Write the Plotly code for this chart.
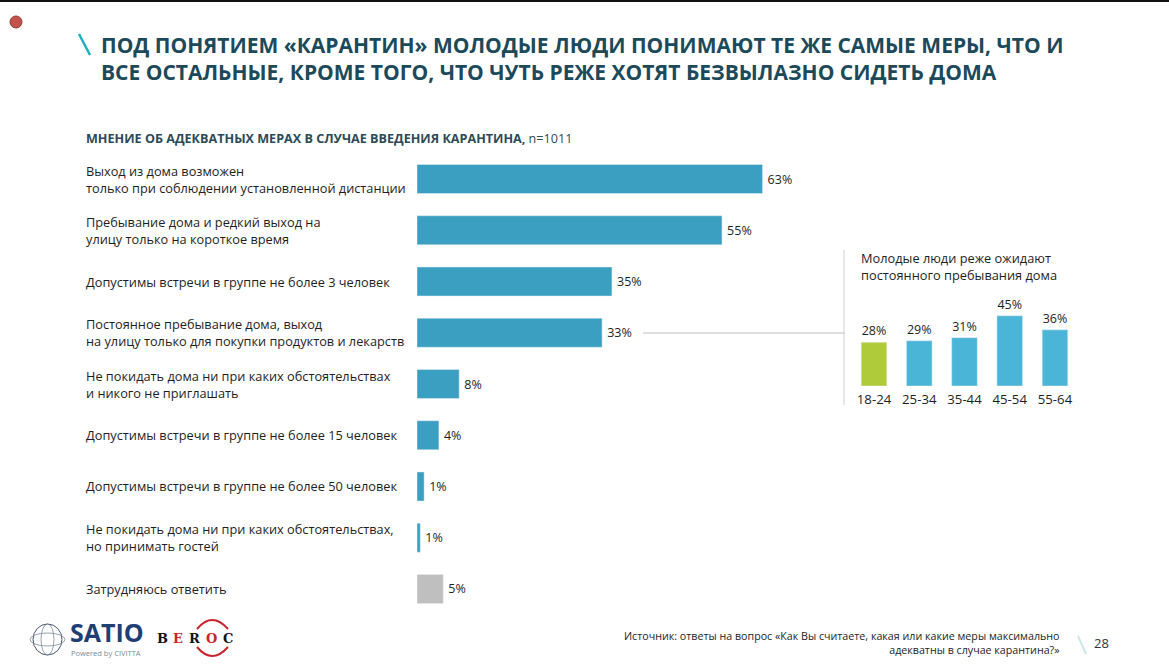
import plotly.graph_objects as go

W, H = 1169, 665
FONT = "Open Sans"

measures = [
    "Выход из дома возможен<br>только при соблюдении установленной дистанции",
    "Пребывание дома и редкий выход на<br>улицу только на короткое время",
    "Допустимы встречи в группе не более 3 человек",
    "Постоянное пребывание дома, выход<br>на улицу только для покупки продуктов и лекарств",
    "Не покидать дома ни при каких обстоятельствах<br>и никого не приглашать",
    "Допустимы встречи в группе не более 15 человек",
    "Допустимы встречи в группе не более 50 человек",
    "Не покидать дома ни при каких обстоятельствах,<br>но принимать гостей",
    "Затрудняюсь ответить",
]
measure_values = [63.1, 55.7, 35.6, 33.8, 7.7, 4, 1.3, 0.6, 4.8]
measure_labels = ["63%", "55%", "35%", "33%", "8%", "4%", "1%", "1%", "5%"]
measure_colors = ["#3a9fc1"] * 8 + ["#bfbfbf"]

age_groups = ["18-24", "25-34", "35-44", "45-54", "55-64"]
age_values = [28, 29, 31, 45, 36]
age_labels = ["28%", "29%", "31%", "45%", "36%"]
age_colors = ["#afcb3a", "#4ab5d6", "#4ab5d6", "#4ab5d6", "#4ab5d6"]

TITLE = "ПОД ПОНЯТИЕМ «КАРАНТИН» МОЛОДЫЕ ЛЮДИ ПОНИМАЮТ ТЕ ЖЕ САМЫЕ МЕРЫ, ЧТО И<br>ВСЕ ОСТАЛЬНЫЕ, КРОМЕ ТОГО, ЧТО ЧУТЬ РЕЖЕ ХОТЯТ БЕЗВЫЛАЗНО СИДЕТЬ ДОМА"
SUBTITLE = "<b>МНЕНИЕ ОБ АДЕКВАТНЫХ МЕРАХ В СЛУЧАЕ ВВЕДЕНИЯ КАРАНТИНА,</b> n=1011"
INSET_TITLE = "Молодые люди реже ожидают<br>постоянного пребывания дома"
SOURCE = "Источник: ответы на вопрос «Как Вы считаете, какая или какие меры максимально<br>адекватны в случае карантина?»"


def px(x):
    return x / W


def py(y):
    return 1 - y / H


fig = go.Figure()
fig.add_trace(go.Bar(
    x=measure_values, y=measures, orientation="h", marker_color=measure_colors,
    text=measure_labels, texttemplate="\u2009%{text}", textposition="outside", cliponaxis=False,
    textfont=dict(family=FONT, size=12.5, color="#1e1e1e"),
    xaxis="x", yaxis="y", hoverinfo="skip",
))
fig.add_trace(go.Bar(
    x=age_groups, y=age_values, marker_color=age_colors,
    text=age_labels, textposition="outside", cliponaxis=False,
    textfont=dict(family=FONT, size=12.5, color="#1e1e1e"),
    xaxis="x2", yaxis="y2", hoverinfo="skip",
))

annotations = []


def note(x, y, text, size, color="#1e1e1e", anchor="left", align="left", vanchor="middle", family=FONT):
    annotations.append(dict(
        x=px(x), y=py(y), xref="paper", yref="paper", text=text, showarrow=False,
        xanchor=anchor, yanchor=vanchor, align=align, borderpad=0,
        font=dict(family=family, size=size, color=color),
    ))


for m in measures:
    annotations.append(dict(
        x=px(85), y=m, xref="paper", yref="y", text=m, showarrow=False,
        xanchor="left", yanchor="middle", align="left", borderpad=0,
        font=dict(family=FONT, size=12.75, color="#1e1e1e"),
    ))

note(100, 58, "<b>" + TITLE.replace("<br>", "</b><br><b>") + "</b>", 21, color="#1c4a5a")
note(85, 138, SUBTITLE, 12.6, color="#2c4a57")
note(860, 266, INSET_TITLE, 12.8)
note(1061, 643, SOURCE, 10.7, anchor="right", align="right")
note(1093, 643, "28", 13, color="#333333")

# logos
note(69, 632, "<b>SATIO</b>", 25, color="#1f3f74")
note(70, 653, "Powered by CIVITTA", 7.5, color="#7a8a9a")
SERIF = "DejaVu Serif"
note(156, 638, "<b>B</b>", 13, color="#111111", family=SERIF)
note(172, 638, "<b>E</b>", 13, color="#c8242b", family=SERIF)
note(188, 638, "<b>R</b>", 13, color="#111111", family=SERIF)
note(205, 638, "<b>O</b>", 13, color="#c8242b", family=SERIF)
note(222, 638, "<b>C</b>", 13, color="#111111", family=SERIF)

shapes = [
    dict(type="rect", x0=0, x1=1, y0=py(2), y1=1, xref="paper", yref="paper",
         fillcolor="#111111", line_width=0, layer="above"),
    dict(type="circle", x0=px(10), x1=px(22), y0=py(28), y1=py(16), xref="paper", yref="paper",
         fillcolor="#c4524c", line=dict(color="#8c3a36", width=1)),
    dict(type="line", x0=px(79), x1=px(90), y0=py(34), y1=py(55), xref="paper", yref="paper",
         line=dict(color="#1fb0c0", width=2.5)),
    dict(type="line", x0=px(643), x1=px(845), y0=py(333), y1=py(333), xref="paper", yref="paper",
         line=dict(color="#bdbdbd", width=1)),
    dict(type="line", x0=px(844), x1=px(844), y0=py(250), y1=py(405), xref="paper", yref="paper",
         line=dict(color="#d0d0d0", width=1)),
    dict(type="line", x0=px(1078), x1=px(1086), y0=py(636), y1=py(654), xref="paper", yref="paper",
         line=dict(color="#cfe6ea", width=2)),
    # globe mark
    dict(type="circle", x0=px(33), x1=px(62), y0=py(655), y1=py(624), xref="paper", yref="paper",
         line=dict(color="#44566a", width=1)),
    dict(type="circle", x0=px(41), x1=px(54), y0=py(655), y1=py(624), xref="paper", yref="paper",
         line=dict(color="#7a8a9a", width=0.8)),
    dict(type="circle", x0=px(30), x1=px(65), y0=py(646), y1=py(633), xref="paper", yref="paper",
         line=dict(color="#7a8a9a", width=0.8)),
    # BEROC ring
    dict(type="path", path=f"M {px(197)} {py(629)} Q {px(212)} {py(611)} {px(228)} {py(629)}",
         xref="paper", yref="paper", line=dict(color="#c8242b", width=2)),
    dict(type="path", path=f"M {px(197)} {py(647)} Q {px(212)} {py(665)} {px(228)} {py(647)}",
         xref="paper", yref="paper", line=dict(color="#c8242b", width=2)),
]

fig.update_layout(
    width=W, height=H, autosize=False,
    margin=dict(l=0, r=0, t=0, b=0),
    paper_bgcolor="#ffffff", plot_bgcolor="rgba(0,0,0,0)",
    showlegend=False, barmode="overlay",
    font=dict(family=FONT, color="#1e1e1e"),
    xaxis=dict(domain=[px(417), px(417 + 547.6)], range=[0, 100], visible=False, fixedrange=True),
    yaxis=dict(domain=[py(614.6), py(153.4)], autorange="reversed", type="category",
               anchor="x", visible=False, fixedrange=True, categoryorder="array", categoryarray=measures),
    xaxis2=dict(domain=[px(851.4), px(1077.6)], type="category", anchor="y2", showline=False,
                showgrid=False, ticks="outside", ticklen=1, tickcolor="rgba(0,0,0,0)",
                tickfont=dict(family=FONT, size=13.2, color="#1e1e1e"),
                categoryorder="array", categoryarray=age_groups, fixedrange=True),
    yaxis2=dict(domain=[py(386), py(308)], range=[0, 50], anchor="x2", visible=False, fixedrange=True),
    bargap=0.434,
    annotations=annotations, shapes=shapes,
)
fig.write_html("out.html", config=dict(displayModeBar=False),
               post_script="document.body.style.margin='0';")
